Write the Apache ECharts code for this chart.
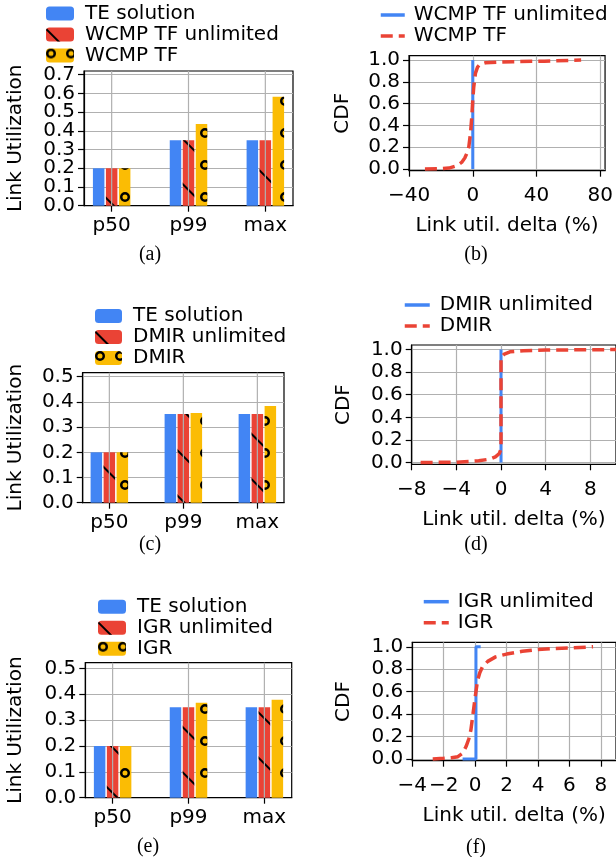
<!DOCTYPE html>
<html>
<head>
<meta charset="utf-8">
<script src="https://cdn.jsdelivr.net/npm/echarts@6/dist/echarts.min.js"></script>
<style>html,body{margin:0;padding:0;background:#fff}#main{width:616px;height:857px}</style>
</head>
<body>
<div id="main"></div>
<script>
// bar panels (a), (c), (e)
var cats = ['p50', 'p99', 'max'];
var teA = [0.2, 0.35, 0.35];
var wcmpUnlim = [0.2, 0.35, 0.35];
var wcmpTF = [0.2, 0.437, 0.583];
var teC = [0.2, 0.352, 0.352];
var dmirUnlim = [0.2, 0.352, 0.352];
var dmir = [0.2, 0.356, 0.384];
var teE = [0.2, 0.35, 0.35];
var igrUnlim = [0.2, 0.35, 0.35];
var igr = [0.2, 0.367, 0.379];
var barTicksA = [0, 0.1, 0.2, 0.3, 0.4, 0.5, 0.6, 0.7];
var barTicksCE = [0, 0.1, 0.2, 0.3, 0.4, 0.5];

// CDF panels (b), (d), (f): [delta %, cdf]
var wcmpUnlimCdf = [[0, 0], [0, 1]];
var wcmpCdf = [[-30, 0], [-20, 0.003], [-15, 0.008], [-10, 0.03], [-7, 0.06], [-5, 0.1], [-3.5, 0.15],
    [-2.5, 0.2], [-1.4, 0.33], [-0.6, 0.48], [0, 0.63], [0.6, 0.75], [1.7, 0.88], [3, 0.935],
    [4.5, 0.96], [8, 0.975], [15, 0.98], [25, 0.985], [45, 0.99], [68, 1.0]];
var dmirUnlimCdf = [[0, 0], [0, 1]];
var dmirCdf = [[-7.2, 0], [-4, 0.003], [-2, 0.015], [-1, 0.03], [-0.5, 0.05], [-0.15, 0.08], [0, 0.12],
    [0, 0.93], [0.3, 0.96], [0.8, 0.98], [2, 0.99], [4, 0.995], [10.5, 1.0]];
var igrUnlimCdf = [[-0.8, 0], [0.05, 0], [0.05, 1], [0.35, 1]];
var igrCdf = [[-2.7, 0], [-2, 0.005], [-1.5, 0.01], [-1.1, 0.02], [-0.8, 0.05], [-0.58, 0.11], [-0.4, 0.18],
    [-0.27, 0.26], [-0.13, 0.41], [0, 0.55], [0.15, 0.7], [0.3, 0.77], [0.46, 0.82], [0.8, 0.87],
    [1.3, 0.91], [2, 0.935], [3, 0.96], [4, 0.975], [5, 0.985], [6, 0.99], [7.5, 1.0]];
var cdfTicks = [0, 0.2, 0.4, 0.6, 0.8, 1.0];
var xTicksB = [-40, 0, 40, 80];
var xTicksD = [-8, -4, 0, 4, 8];
var xTicksF = [-4, -2, 0, 2, 4, 6, 8];

var blue = '#4285F4', red = '#EA4335', yellow = '#FBBC04';
var gridGray = '#b0b0b0';
var font = 'DejaVu Sans';
var hatchLine = {symbol: 'rect', symbolSize: 1, color: '#000', dashArrayX: [1, 0], dashArrayY: [1.5, 30], rotation: Math.PI / 4};
var hatchRing = {
    symbol: 'path://M0,10A10,10,0,1,0,20,10A10,10,0,1,0,0,10ZM5,10A5,5,0,1,1,15,10A5,5,0,1,1,5,10Z',
    symbolSize: 1, color: '#000', dashArrayX: [10, 10], dashArrayY: [10, 22]
};

var myChart = echarts.init(document.getElementById('main'), null, {renderer: 'canvas'});

var grids = [
    {left: 84, top: 71, width: 209, height: 134.7},
    {left: 409, top: 55.7, width: 198, height: 115},
    {left: 82.7, top: 372.7, width: 201.3, height: 130},
    {left: 411.7, top: 345, width: 206.6, height: 119.3},
    {left: 85.3, top: 662.7, width: 206.4, height: 135},
    {left: 412.3, top: 642.3, width: 206, height: 118.4}
];
for (var g = 0; g < grids.length; g++) {
    grids[g].show = true;
    grids[g].borderColor = '#000';
    grids[g].borderWidth = 1.2;
}

function fmtNum(v) {
    return v < 0 ? '\u2212' + Math.abs(v) : String(v);
}
function fmt1(v) {
    return v.toFixed(1);
}

var axisLineStyle = {show: true, onZero: false, lineStyle: {color: '#000', width: 1.2}};
var splitStyle = {show: true, lineStyle: {color: gridGray, width: 1.2}};
var nameFont = {fontFamily: font, fontSize: 20, color: '#000'};

function ticks(vals) {
    return {show: true, length: 6, interval: 0, lineStyle: {color: '#000', width: 1.2}, customValues: vals};
}
function labels(vals, margin, fmt) {
    return {show: true, customValues: vals, interval: 0, margin: margin, formatter: fmt, hideOverlap: false,
        showMinLabel: true, showMaxLabel: true,
        fontFamily: font, fontSize: 20, color: '#000'};
}
function pick(vals, odd) {
    var out = [];
    for (var i = 0; i < vals.length; i++) if (i % 2 === (odd ? 1 : 0)) out.push(vals[i]);
    return out;
}

function barX(idx) {
    return {
        type: 'value', gridIndex: idx, min: -0.36, max: 2.36,
        axisLine: axisLineStyle,
        axisTick: ticks([0, 1, 2]),
        axisLabel: labels([0, 1, 2], 10, function (v) { return cats[v]; }),
        splitLine: {show: false}
    };
}
function barY(idx, max, vals, gap, labelVals) {
    return {
        type: 'value', gridIndex: idx, min: 0, max: max,
        name: 'Link Utilization', nameLocation: 'middle', nameGap: gap, nameTextStyle: nameFont,
        axisLine: axisLineStyle,
        axisTick: ticks(vals),
        axisLabel: labels(labelVals || vals, 9, fmt1),
        splitLine: splitStyle
    };
}
// panel (a) is short: its tick labels are split over two overlaid axes so none get dropped
function extraLabelY(idx, max, vals) {
    return {
        type: 'value', gridIndex: idx, min: 0, max: max, position: 'left',
        axisLine: {show: false}, axisTick: {show: false}, splitLine: {show: false},
        axisLabel: labels(vals, 9, fmt1)
    };
}
function cdfX(idx, min, max, vals) {
    return {
        type: 'value', gridIndex: idx, min: min, max: max,
        name: 'Link util. delta (%)', nameLocation: 'middle', nameGap: 45, nameTextStyle: nameFont,
        axisLine: axisLineStyle,
        axisTick: ticks(vals),
        axisLabel: labels(vals, 15, fmtNum),
        splitLine: splitStyle
    };
}
function cdfY(idx, gap) {
    return {
        type: 'value', gridIndex: idx, min: -0.016, max: 1.04,
        name: 'CDF', nameLocation: 'middle', nameGap: gap, nameTextStyle: nameFont,
        axisLine: axisLineStyle,
        axisTick: ticks(cdfTicks),
        axisLabel: labels(cdfTicks, 9, fmt1),
        splitLine: splitStyle
    };
}

function pairs(vals) {
    var out = [];
    for (var i = 0; i < vals.length; i++) out.push([i, vals[i]]);
    return out;
}
function bar(idx, name, vals, color, decal) {
    var s = {
        type: 'bar', name: name, xAxisIndex: idx, yAxisIndex: idx,
        data: pairs(vals), barWidth: 11.5, barGap: '13%',
        itemStyle: {color: color}
    };
    if (decal) s.itemStyle.decal = decal;
    return s;
}
// vertical grid lines at the categories, drawn over the bars
function vGrid(idx) {
    var d = [];
    for (var j = 0; j < cats.length; j++) d.push([j, 0.1]);
    return {
        type: 'custom', xAxisIndex: idx, yAxisIndex: idx, z: 5, silent: true, clip: false,
        data: d,
        renderItem: function (params, api) {
            var cs = params.coordSys;
            var p = api.coord([api.value(0), api.value(1)]);
            return {type: 'line', shape: {x1: p[0], y1: cs.y, x2: p[0], y2: cs.y + cs.height},
                style: {stroke: gridGray, lineWidth: 1.2}};
        }
    };
}
function cdfLine(idx, name, data, color, dashed) {
    return {
        type: 'line', name: name, xAxisIndex: idx, yAxisIndex: idx, data: data,
        symbol: 'none', showSymbol: false,
        lineStyle: {color: color, width: dashed ? 3.5 : 3, type: dashed ? [12, 6] : 'solid', cap: 'butt'},
        itemStyle: {color: color}
    };
}

function legend(left, top, width, names, pad, isLine) {
    var l = {
        orient: 'vertical', left: left, top: top, padding: 0, itemGap: 1,
        itemWidth: width, itemHeight: 14,
        data: names,
        formatter: function (n) { return n.trim(); },
        textStyle: {fontFamily: font, fontSize: 20, color: '#000', padding: [0, 0, 0, pad]}
    };
    if (isLine) {
        l.itemStyle = {opacity: 0};
        l.lineStyle = {width: 3.5};
    }
    return l;
}

function caption(x, y, text) {
    return {type: 'text', x: x, y: y,
        style: {text: text, font: '20px "Liberation Serif"', fill: '#000', textAlign: 'center', textVerticalAlign: 'middle'}};
}

var option = {
    animation: false,
    grid: grids,
    xAxis: [barX(0), cdfX(1, -40, 83, xTicksB), barX(2), cdfX(3, -8, 10.3, xTicksD), barX(4), cdfX(5, -4, 8.96, xTicksF)],
    yAxis: [
        barY(0, 0.72, barTicksA, 58, pick(barTicksA, false)), cdfY(1, 56),
        barY(2, 0.516, barTicksCE, 57), cdfY(3, 58),
        barY(4, 0.522, barTicksCE, 60), cdfY(5, 59),
        extraLabelY(0, 0.72, pick(barTicksA, true))
    ],
    legend: [
        legend(46, 3.5, 28, ['TE solution', 'WCMP TF unlimited', 'WCMP TF'], 6, false),
        legend(379, 5, 24, ['WCMP TF unlimited ', 'WCMP TF '], 4, true),
        legend(95, 306, 27, ['TE solution', 'DMIR unlimited', 'DMIR'], 6, false),
        legend(403, 295, 25, ['DMIR unlimited ', 'DMIR '], 5, true),
        legend(98, 596.7, 28, ['TE solution', 'IGR unlimited', 'IGR'], 6, false),
        legend(422, 591.7, 25, ['IGR unlimited ', 'IGR '], 4, true)
    ],
    graphic: [
        caption(150, 255, '(a)'), caption(476, 255, '(b)'),
        caption(150, 545, '(c)'), caption(476, 545, '(d)'),
        caption(148, 847, '(e)'), caption(476, 848, '(f)')
    ],
    series: [
        bar(0, 'TE solution', teA, blue),
        bar(0, 'WCMP TF unlimited', wcmpUnlim, red, hatchLine),
        bar(0, 'WCMP TF', wcmpTF, yellow, hatchRing),
        vGrid(0),
        cdfLine(1, 'WCMP TF unlimited ', wcmpUnlimCdf, blue, false),
        cdfLine(1, 'WCMP TF ', wcmpCdf, red, true),
        bar(2, 'TE solution', teC, blue),
        bar(2, 'DMIR unlimited', dmirUnlim, red, hatchLine),
        bar(2, 'DMIR', dmir, yellow, hatchRing),
        vGrid(2),
        cdfLine(3, 'DMIR unlimited ', dmirUnlimCdf, blue, false),
        cdfLine(3, 'DMIR ', dmirCdf, red, true),
        bar(4, 'TE solution', teE, blue),
        bar(4, 'IGR unlimited', igrUnlim, red, hatchLine),
        bar(4, 'IGR', igr, yellow, hatchRing),
        vGrid(4),
        cdfLine(5, 'IGR unlimited ', igrUnlimCdf, blue, false),
        cdfLine(5, 'IGR ', igrCdf, red, true)
    ]
};

myChart.setOption(option);
</script>
</body>
</html>
